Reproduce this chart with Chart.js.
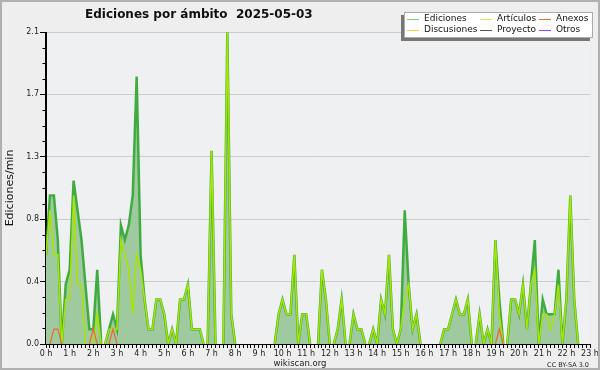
<!DOCTYPE html>
<html>
<head>
<meta charset="utf-8">
<script src="https://cdn.jsdelivr.net/npm/chart.js@4.4.1/dist/chart.umd.min.js"></script>
<style>
  html, body { margin: 0; padding: 0; background: #eeeeee; }
</style>
</head>
<body>
<canvas id="chart" width="600" height="370"></canvas>
<script>
// 10-minute bins, edits per minute, 0:00 .. 23:00
const ediciones = [
  0.6, 1.0, 1.0, 0.7, 0, 0.4, 0.5, 1.1, 0.9, 0.7,
  0.4, 0.1, 0.1, 0.5, 0, 0, 0.1, 0.2, 0.1, 0.8,
  0.7, 0.8, 1.0, 1.8, 0.6, 0.3, 0.1, 0.1, 0.3, 0.3,
  0.2, 0, 0.1, 0, 0.3, 0.3, 0.4, 0.1, 0.1, 0.1,
  0, 0, 1.3, 0, 0, 0, 2.1, 0.2, 0, 0,
  0, 0, 0, 0, 0, 0, 0, 0, 0, 0.2,
  0.3, 0.2, 0.2, 0.6, 0, 0.2, 0.2, 0, 0, 0,
  0.5, 0.3, 0, 0, 0.1, 0.3, 0, 0, 0.2, 0.1,
  0.1, 0, 0, 0.1, 0, 0.3, 0.2, 0.6, 0.1, 0,
  0.1, 0.9, 0.4, 0.1, 0.2, 0, 0, 0, 0, 0,
  0, 0.1, 0.1, 0.2, 0.3, 0.2, 0.2, 0.3, 0, 0,
  0.2, 0, 0.1, 0, 0.7, 0.3, 0, 0, 0.3, 0.3,
  0.2, 0.4, 0.1, 0.4, 0.7, 0, 0.3, 0.2, 0.2, 0.2,
  0.5, 0, 0.3, 1.0, 0.3, 0, 0, 0, 0
];
const articulos = [
  0.6, 0.9, 0.6, 0.6, 0, 0.3, 0.3, 1.0, 0.4, 0.4,
  0, 0, 0, 0.2, 0, 0, 0.1, 0.1, 0.1, 0.7,
  0.6, 0.5, 0.2, 0.6, 0.5, 0.3, 0.1, 0.1, 0.3, 0.3,
  0.2, 0, 0.1, 0, 0.3, 0.3, 0.4, 0.1, 0.1, 0.1,
  0, 0, 1.3, 0, 0, 0, 2.1, 0.2, 0, 0,
  0, 0, 0, 0, 0, 0, 0, 0, 0, 0.2,
  0.3, 0.2, 0.2, 0.6, 0, 0.2, 0.2, 0, 0, 0,
  0.5, 0.3, 0, 0, 0.1, 0.3, 0, 0, 0.2, 0.1,
  0.1, 0, 0, 0.1, 0, 0.3, 0.2, 0.6, 0.1, 0,
  0.1, 0.3, 0.4, 0.1, 0.2, 0, 0, 0, 0, 0,
  0, 0.1, 0.1, 0.2, 0.3, 0.2, 0.2, 0.3, 0, 0,
  0.2, 0, 0.1, 0, 0.7, 0.2, 0, 0, 0.3, 0.3,
  0.2, 0.4, 0.1, 0.4, 0.5, 0, 0.2, 0.2, 0.1, 0.2,
  0.4, 0, 0.3, 1.0, 0.3, 0, 0, 0, 0
];
const anexos = [
  0, 0, 0.1, 0.1, 0, 0, 0, 0, 0, 0,
  0, 0, 0.1, 0, 0, 0, 0, 0.1, 0, 0,
  0, 0, 0, 0, 0, 0, 0, 0, 0, 0,
  0, 0, 0, 0, 0, 0, 0, 0, 0, 0,
  0, 0, 0, 0, 0, 0, 0, 0, 0, 0,
  0, 0, 0, 0, 0, 0, 0, 0, 0, 0,
  0, 0, 0, 0, 0, 0, 0, 0, 0, 0,
  0, 0, 0, 0, 0, 0, 0, 0, 0, 0,
  0, 0, 0, 0, 0, 0, 0, 0, 0, 0,
  0, 0, 0, 0, 0, 0, 0, 0, 0, 0,
  0, 0, 0, 0, 0, 0, 0, 0, 0, 0,
  0, 0, 0, 0, 0, 0.1, 0, 0, 0, 0,
  0, 0, 0, 0, 0, 0, 0, 0, 0, 0,
  0, 0, 0, 0, 0, 0, 0, 0, 0
];
const hourLabels = ['0 h', '1 h', '2 h', '3 h', '4 h', '5 h', '6 h', '7 h', '8 h', '9 h', '10 h', '11 h',
  '12 h', '13 h', '14 h', '15 h', '16 h', '17 h', '18 h', '19 h', '20 h', '21 h', '22 h', '23 h'];
const legendItems = [
  ['Ediciones', '#88cc88'], ['Artículos', '#ccee55'], ['Anexos', '#f26a3c'],
  ['Discusiones', '#f8cc44'], ['Proyecto', '#555555'], ['Otros', '#9944ee']
];

const times = ediciones.map((v, i) => Math.floor(i / 6) + ':' + (i % 6) + '0');

Chart.defaults.font.family = "'DejaVu Sans', sans-serif";

// hide line segments lying on the zero baseline
const zeroSeg = ctx => (ctx.p0.parsed.y === 0 && ctx.p1.parsed.y === 0) ? 'rgba(0,0,0,0)' : undefined;

const frame = {
  id: 'frame',
  beforeDraw(chart) {
    const { ctx, chartArea: a } = chart;
    ctx.save();
    ctx.fillStyle = '#eeeeee';
    ctx.fillRect(0, 0, chart.width, chart.height);
    ctx.fillStyle = '#eef0f2';
    ctx.fillRect(a.left, a.top, a.right - a.left, a.bottom - a.top);
    ctx.restore();
  },
  afterDatasetsDraw(chart) {
    const { ctx, chartArea: a } = chart;
    const y = chart.scales.y;
    ctx.save();
    ctx.strokeStyle = '#000';
    ctx.lineWidth = 1;
    ctx.beginPath();
    ctx.moveTo(a.left - 0.5, a.top);
    ctx.lineTo(a.left - 0.5, a.bottom + 0.5);
    ctx.lineTo(a.right, a.bottom + 0.5);
    y.ticks.forEach((t, i) => {
      if (i % 4 === 0) return;
      const py = Math.round(y.getPixelForTick(i)) + 0.5;
      ctx.moveTo(a.left - 3.5, py);
      ctx.lineTo(a.left - 0.5, py);
    });
    ctx.stroke();
    ctx.restore();
  },
  afterDraw(chart) {
    const { ctx, chartArea: a } = chart;
    ctx.save();
    // title
    ctx.fillStyle = '#111';
    ctx.font = "bold 12px 'DejaVu Sans'";
    ctx.textBaseline = 'alphabetic';
    ctx.textAlign = 'left';
    ctx.fillText('Ediciones por ámbito  2025-05-03', 85, 18);

    // legend box
    ctx.fillStyle = '#777';
    ctx.fillRect(401, 15, 189, 26);
    ctx.fillStyle = '#fff';
    ctx.fillRect(404, 12, 189, 26);
    ctx.strokeStyle = '#aaa';
    ctx.lineWidth = 1;
    ctx.strokeRect(404.5, 12.5, 188, 25);
    ctx.font = "9px 'DejaVu Sans'";
    ctx.textBaseline = 'middle';
    const colX = [407, 480, 539];
    const rowY = [19, 29.5];
    legendItems.forEach(([name, color], k) => {
      const x = colX[k % 3], yy = rowY[Math.floor(k / 3)];
      ctx.strokeStyle = color;
      ctx.beginPath();
      ctx.moveTo(x, Math.round(yy) + 0.5);
      ctx.lineTo(x + 12, Math.round(yy) + 0.5);
      ctx.stroke();
      ctx.fillStyle = '#111';
      ctx.fillText(name, x + 17, yy);
    });

    // y axis title
    ctx.save();
    ctx.translate(10, (a.top + a.bottom) / 2);
    ctx.rotate(-Math.PI / 2);
    ctx.font = "11px 'DejaVu Sans'";
    ctx.textAlign = 'center';
    ctx.textBaseline = 'middle';
    ctx.fillStyle = '#111';
    ctx.fillText('Ediciones/min', 0, 0);
    ctx.restore();

    // footer
    ctx.textAlign = 'center';
    ctx.textBaseline = 'alphabetic';
    ctx.font = "8.5px 'DejaVu Sans'";
    ctx.fillStyle = '#222';
    ctx.fillText('wikiscan.org', 300, 366);
    ctx.textAlign = 'right';
    ctx.font = "6.5px 'DejaVu Sans'";
    ctx.fillText('CC BY-SA 3.0', 589, 367);

    // outer frame
    ctx.strokeStyle = '#b0b0b0';
    ctx.lineWidth = 2;
    ctx.strokeRect(1, 1, chart.width - 2, chart.height - 2);
    ctx.restore();
  }
};

new Chart(document.getElementById('chart'), {
  type: 'line',
  data: {
    labels: times,
    datasets: [
      {
        label: 'Anexos', data: anexos, order: 1,
        borderColor: '#f0692a', borderWidth: 1.2, fill: false,
        segment: { borderColor: zeroSeg }
      },
      {
        label: 'Artículos', data: articulos, order: 2,
        borderColor: '#a8e600', borderWidth: 1.5, fill: false,
        segment: { borderColor: zeroSeg }
      },
      {
        label: 'Ediciones', data: ediciones, order: 3,
        borderColor: '#40ac40', borderWidth: 2.5,
        backgroundColor: '#9fc99f', fill: 'origin',
        segment: { borderColor: zeroSeg }
      }
    ]
  },
  options: {
    responsive: false,
    animation: false,
    devicePixelRatio: 1,
    elements: { point: { radius: 0 }, line: { tension: 0 } },
    layout: { padding: { top: 32, right: 10, left: 0, bottom: 0 } },
    plugins: { legend: { display: false }, title: { display: false }, tooltip: { enabled: false } },
    scales: {
      x: {
        type: 'category',
        offset: false,
        grid: { drawOnChartArea: false, tickLength: 4, tickColor: '#000' },
        border: { color: '#000', width: 1 },
        ticks: {
          autoSkip: false, maxRotation: 0, minRotation: 0, padding: 1,
          color: '#222', font: { size: 8 },
          callback: (v, i) => i % 6 === 0 ? hourLabels[i / 6] : ''
        },
        afterFit: s => { s.height = 26; }
      },
      y: {
        min: 0, max: 2.1,
        grid: {
          tickLength: 6,
          color: c => c.index % 4 === 0 ? '#cccccc' : 'rgba(0,0,0,0)',
          tickColor: c => c.index % 4 === 0 ? '#000' : 'rgba(0,0,0,0)'
        },
        border: { color: '#000', width: 1 },
        ticks: {
          count: 21, autoSkip: false, padding: 1,
          color: '#222', font: { size: 8 },
          callback: (v, i) => i % 4 === 0 ? v.toFixed(1) : ''
        },
        afterFit: s => { s.width = 46; }
      }
    }
  },
  plugins: [frame]
});
</script>
</body>
</html>
